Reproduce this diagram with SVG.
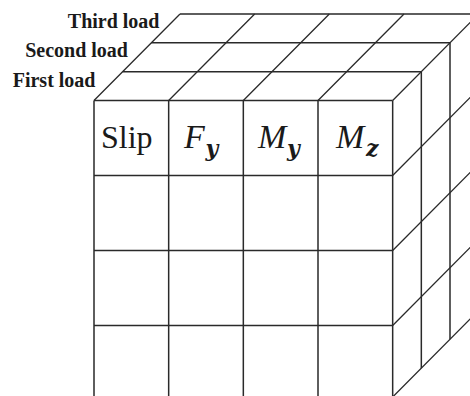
<svg xmlns="http://www.w3.org/2000/svg" width="470" height="396" viewBox="0 0 470 396">
  <style>
    .ln { stroke: #2a2a2a; stroke-width: 1.5; fill: none; }
    .dg { stroke: #2a2a2a; stroke-width: 1.3; fill: none; }
    .lbl { font-family: "Liberation Serif", "Times New Roman", serif; font-weight: bold; font-size: 20px; fill: #1a1a1a; text-anchor: end; }
    .cell { font-family: "Liberation Serif", "Times New Roman", serif; font-size: 32px; fill: #1a1a1a; }
    .it { font-style: italic; font-size: 34px; }
    .sub { font-family: "DejaVu Serif", "Liberation Serif", serif; font-style: italic; font-weight: bold; font-size: 22px; }
  </style>
  <rect width="470" height="396" fill="#ffffff"/>
  <g id="connectors">
    <path class="ln" d="M122.67 71.65 H421.33 M151.33 42.8 H450 M180 13.95 H478.67"/>
    <path class="dg" d="M94 100.5 L180 13.95 M168.67 100.5 L254.67 13.95 M243.33 100.5 L329.33 13.95 M318 100.5 L404 13.95 M392.67 100.5 L478.67 13.95"/>
    <path class="ln" d="M421.33 71.65 V368.15 M450 42.8 V339.3 M478.67 13.95 V310.45"/>
    <path class="dg" d="M392.67 175.5 L478.67 88.95 M392.67 250.5 L478.67 163.95 M392.67 325.5 L478.67 238.95 M392.67 397 L478.67 310.45"/>
  </g>
  <g id="front-face">
    <path class="ln" d="M94 100.5 H392.67 M94 175.5 H392.67 M94 250.5 H392.67 M94 325.5 H392.67"/>
    <path class="ln" d="M94 100.5 V397 M168.67 100.5 V397 M243.33 100.5 V397 M318 100.5 V397 M392.67 100.5 V397"/>
  </g>
  <g id="labels">
    <text class="lbl" x="159.5" y="27.5">Third load</text>
    <text class="lbl" x="128" y="57.3">Second load</text>
    <text class="lbl" x="95.5" y="87.3">First load</text>
  </g>
  <g id="cell-slip">
    <text class="cell" x="101" y="147.5">Slip</text>
  </g>
  <g id="cell-fy">
    <text class="cell it" x="184" y="147.5">F<tspan class="sub" x="205.5" y="156">y</tspan></text>
  </g>
  <g id="cell-my">
    <text class="cell it" x="258" y="147.5">M<tspan class="sub" x="287" y="156">y</tspan></text>
  </g>
  <g id="cell-mz">
    <text class="cell it" x="336" y="147.5">M<tspan class="sub" x="366" y="156">z</tspan></text>
  </g>
</svg>
